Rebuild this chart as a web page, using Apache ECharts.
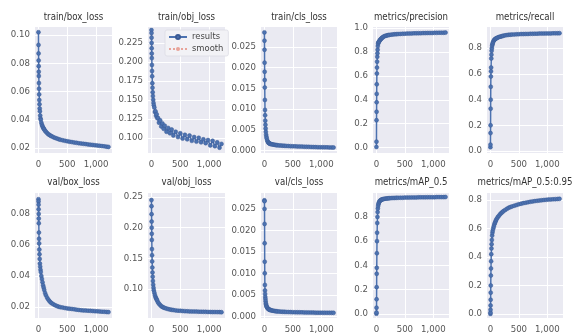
<!DOCTYPE html>
<html><head><meta charset="utf-8">
<script src="https://cdn.jsdelivr.net/npm/echarts@6/dist/echarts.min.js"></script>
<style>html,body{margin:0;padding:0;background:#fff}#c{width:574px;height:336px}</style>
</head><body><div id="c"></div>
<script>
// ---- data ----
const epochs = [0,1,2,3,4,5,6,8,10,12,15,18,21,25,30,35,40,50,60,70,80,90,100,115,130,150,170,190,210,230,260,290,320,350,380,420,460,500,540,580,620,660,700,740,780,820,860,900,940,980,1020,1060,1100,1140,1180,1214];
const titles = ['train/box_loss','train/obj_loss','train/cls_loss','metrics/precision','metrics/recall','val/box_loss','val/obj_loss','val/cls_loss','metrics/mAP_0.5','metrics/mAP_0.5:0.95'];
const xTicks = [0,500,1000];

const trainBoxLoss = [0.102,0.093,0.087,0.082,0.078,0.074,0.071,0.066,0.062,0.058,0.054,0.051,0.048,0.046,0.043,0.041,0.040,0.038,0.0365,0.0355,0.0345,0.0338,0.0332,0.0322,0.0315,0.0306,0.0298,0.0293,0.0288,0.0283,0.0277,0.0272,0.0267,0.0263,0.0259,0.0255,0.0251,0.0248,0.0245,0.0242,0.0239,0.0237,0.0234,0.0232,0.0230,0.0228,0.0226,0.0224,0.0222,0.0220,0.0218,0.0216,0.0214,0.0212,0.0210,0.0208];
const trainObjLoss = [0.242,0.238,0.232,0.225,0.218,0.211,0.205,0.196,0.188,0.181,0.172,0.166,0.160,0.155,0.150,0.146,0.143,0.140,0.134,0.135,0.129,0.131,0.126,0.126,0.120,0.123,0.115,0.119,0.112,0.116,0.108,0.113,0.106,0.111,0.103,0.108,0.101,0.106,0.099,0.104,0.098,0.103,0.096,0.101,0.095,0.100,0.094,0.098,0.093,0.097,0.090,0.096,0.089,0.094,0.087,0.092];
const trainClsLoss = [0.0285,0.0265,0.0243,0.0212,0.0190,0.0170,0.0152,0.0122,0.0098,0.0085,0.0072,0.0062,0.0053,0.0045,0.0038,0.0033,0.0029,0.0024,0.0021,0.0019,0.0018,0.0017,0.0016,0.00155,0.0015,0.00145,0.0014,0.00135,0.0013,0.00127,0.00123,0.0012,0.00117,0.00114,0.00111,0.00108,0.00105,0.00102,0.0010,0.00098,0.00096,0.00094,0.00092,0.0009,0.00088,0.00086,0.00084,0.00082,0.0008,0.00079,0.00078,0.00077,0.00076,0.00075,0.00074,0.00073];
const precision = [0.005,0.05,0.23,0.30,0.38,0.45,0.53,0.62,0.67,0.72,0.76,0.79,0.82,0.85,0.87,0.88,0.885,0.89,0.90,0.905,0.91,0.915,0.92,0.925,0.93,0.935,0.937,0.94,0.942,0.944,0.946,0.948,0.949,0.95,0.951,0.952,0.953,0.954,0.955,0.955,0.956,0.957,0.957,0.958,0.958,0.959,0.959,0.96,0.96,0.96,0.961,0.961,0.962,0.962,0.962,0.963];
const recall = [0.03,0.05,0.14,0.20,0.33,0.40,0.50,0.58,0.62,0.65,0.72,0.75,0.78,0.80,0.82,0.83,0.84,0.85,0.86,0.865,0.87,0.873,0.876,0.88,0.883,0.887,0.89,0.892,0.895,0.897,0.9,0.902,0.904,0.905,0.906,0.907,0.908,0.909,0.91,0.91,0.911,0.911,0.912,0.912,0.913,0.913,0.914,0.914,0.914,0.915,0.915,0.915,0.916,0.916,0.916,0.917];
const valBoxLoss = [0.0895,0.088,0.086,0.083,0.080,0.077,0.074,0.068,0.064,0.061,0.057,0.054,0.051,0.048,0.046,0.044,0.0425,0.040,0.038,0.036,0.034,0.0325,0.031,0.029,0.0275,0.026,0.0248,0.0238,0.023,0.0224,0.0217,0.0211,0.0206,0.0202,0.0199,0.0196,0.0193,0.0191,0.0189,0.0187,0.0185,0.0183,0.0181,0.0179,0.0178,0.0177,0.0176,0.0175,0.0174,0.0173,0.0172,0.0171,0.017,0.0169,0.0168,0.0167];
const valObjLoss = [0.245,0.235,0.222,0.21,0.2,0.19,0.18,0.165,0.155,0.145,0.135,0.127,0.12,0.113,0.107,0.102,0.098,0.094,0.09,0.087,0.085,0.083,0.081,0.078,0.076,0.074,0.072,0.0708,0.0698,0.069,0.068,0.0672,0.0666,0.066,0.0656,0.0651,0.0647,0.0644,0.0641,0.0639,0.0637,0.0635,0.0633,0.0632,0.0631,0.063,0.0629,0.0628,0.0627,0.0626,0.0625,0.0624,0.0624,0.0623,0.0623,0.0622];
const valClsLoss = [0.027,0.0268,0.025,0.0215,0.017,0.0127,0.01,0.0073,0.006,0.0052,0.0045,0.004,0.0035,0.003,0.0027,0.0024,0.0022,0.002,0.0018,0.0017,0.0016,0.0015,0.0015,0.0014,0.00135,0.0013,0.00125,0.0012,0.00117,0.00114,0.00111,0.00108,0.00105,0.00103,0.00101,0.00099,0.00097,0.00096,0.00094,0.00093,0.00092,0.00091,0.0009,0.00089,0.00088,0.00087,0.00086,0.00085,0.00085,0.00084,0.00083,0.00083,0.00082,0.00082,0.00081,0.0008];
const mAP50 = [0.0,0.01,0.05,0.12,0.22,0.33,0.38,0.5,0.6,0.67,0.75,0.8,0.84,0.87,0.89,0.905,0.915,0.925,0.932,0.937,0.94,0.943,0.945,0.947,0.949,0.951,0.952,0.953,0.954,0.955,0.956,0.957,0.957,0.958,0.958,0.959,0.959,0.96,0.96,0.96,0.961,0.961,0.961,0.962,0.962,0.962,0.962,0.963,0.963,0.963,0.963,0.964,0.964,0.964,0.964,0.965];
const mAP5095 = [0.0,0.01,0.03,0.06,0.1,0.15,0.2,0.27,0.32,0.37,0.42,0.46,0.49,0.52,0.55,0.57,0.585,0.6,0.615,0.63,0.64,0.65,0.66,0.67,0.68,0.69,0.7,0.708,0.715,0.722,0.73,0.738,0.745,0.75,0.755,0.76,0.765,0.77,0.774,0.778,0.781,0.784,0.787,0.79,0.792,0.794,0.796,0.798,0.8,0.801,0.803,0.804,0.805,0.806,0.807,0.808];

const yTicks = [
  [0.02,0.04,0.06,0.08,0.10],
  [0.100,0.125,0.150,0.175,0.200,0.225],
  [0.000,0.005,0.010,0.015,0.020,0.025],
  [0.0,0.2,0.4,0.6,0.8,1.0],
  [0.0,0.2,0.4,0.6,0.8],
  [0.02,0.04,0.06,0.08],
  [0.10,0.15,0.20,0.25],
  [0.000,0.005,0.010,0.015,0.020,0.025],
  [0.0,0.2,0.4,0.6,0.8],
  [0.0,0.2,0.4,0.6,0.8]
];
const seriesData = [trainBoxLoss,trainObjLoss,trainClsLoss,precision,recall,valBoxLoss,valObjLoss,valClsLoss,mAP50,mAP5095];

// ---- layout ----
const yRange = [[0.0165,0.1057],[0.080,0.246],[-0.0006,0.0298],[-0.045,1.01],[-0.015,0.965],[0.0129,0.0935],[0.0527,0.2565],[-0.0004,0.0287],[-0.035,0.998],[-0.028,0.849]];
const decimals = [2,3,3,1,1,2,2,3,1,1];
const lefts = [35,148,261,373,487];
const widths = [77,77,76,76,76];
const tops = [27,193];
const heights = [126,125];
const FONT = 'DejaVu Sans';
const TFONT = "'DejaVu Sans Condensed', 'Liberation Sans Narrow', 'DejaVu Sans'";
const BLUE = '#4C72B0';

const grid=[], xAxis=[], yAxis=[], series=[], title=[];
for (let i=0;i<10;i++){
  const r = Math.floor(i/5), c = i%5;
  grid.push({left:lefts[c], top:tops[r], width:widths[c], height:heights[r], show:true, backgroundColor:'#EAEAF2', borderWidth:0});
  title.push({text:titles[i], left:lefts[c]+widths[c]/2, top: r===0?12:177, textAlign:'center', padding:0,
    textStyle:{fontFamily:TFONT, fontSize:9.6, fontWeight:'normal', color:'#333'}});
  xAxis.push({type:'value', gridIndex:i, min:-60, max:1275,
    axisLine:{show:false}, axisTick:{show:false, customValues:xTicks},
    axisLabel:{customValues:xTicks, fontFamily:FONT, fontSize:8.6, color:'#555', margin:7},
    splitLine:{show:true, lineStyle:{color:'#fff', width:1}}});
  const d = decimals[i];
  yAxis.push({type:'value', gridIndex:i, min:yRange[i][0], max:yRange[i][1],
    axisLine:{show:false}, axisTick:{show:false, customValues:yTicks[i]},
    axisLabel:{customValues:yTicks[i], fontFamily:FONT, fontSize:8.6, color:'#555', margin:5, formatter:v=>v.toFixed(d)},
    splitLine:{show:true, lineStyle:{color:'#fff', width:1}}});
  series.push({type:'line', name: i===1?'results':titles[i], xAxisIndex:i, yAxisIndex:i,
    data: epochs.map((e,k)=>[e, seriesData[i][k]]),
    symbol:'circle', symbolSize:4, showAllSymbol:true,
    lineStyle:{color:BLUE, width:1.5}, itemStyle:{color:BLUE, borderColor:'#3b5a94', borderWidth:0.5}, z:3});
}
series.push({type:'line', name:'smooth', xAxisIndex:1, yAxisIndex:1, data:[], symbol:'none',
  lineStyle:{color:'#E8A49A', width:1.5, type:'dotted'}, itemStyle:{color:'#E8A49A'}});

const chart = echarts.init(document.getElementById('c'), null, {renderer:'canvas'});
chart.setOption({
  animation:false,
  backgroundColor:'#fff',
  title, grid, xAxis, yAxis, series,
  legend:{data:['results','smooth'], orient:'vertical', left:165, top:30, itemWidth:18, itemHeight:5, itemGap:4,
    padding:[3,5,3,3], backgroundColor:'#F2F2F6', borderColor:'#dcdce4', borderWidth:0.8, borderRadius:2,
    textStyle:{fontFamily:FONT, fontSize:8.4, color:'#444'}}
});
</script></body></html>
